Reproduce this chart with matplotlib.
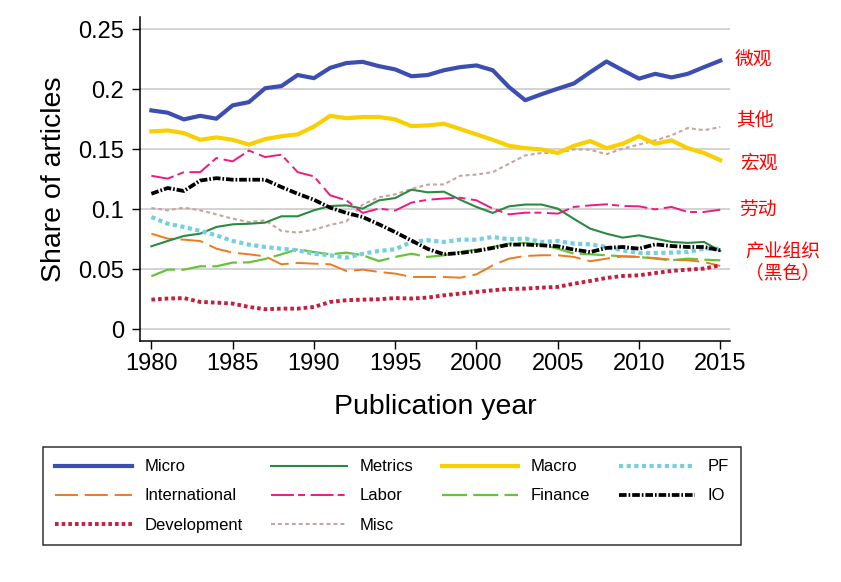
import matplotlib
matplotlib.use("Agg")
import matplotlib.pyplot as plt

years = list(range(1980, 2016))

micro = [0.1825, 0.1806, 0.175, 0.178, 0.1756, 0.1867, 0.1894, 0.201, 0.2028, 0.212,
         0.2094, 0.218, 0.222, 0.223, 0.2194, 0.2167, 0.211, 0.212, 0.216, 0.2186,
         0.220, 0.216, 0.202, 0.191, 0.196, 0.2006, 0.205, 0.2144, 0.2233, 0.216,
         0.209, 0.213, 0.210, 0.213, 0.2186, 0.224]
metrics = [0.0692, 0.0736, 0.0778, 0.0797, 0.0853, 0.0875, 0.088, 0.0889, 0.0942, 0.0942,
           0.0992, 0.1028, 0.1033, 0.1006, 0.1075, 0.1094, 0.1164, 0.1142, 0.1147, 0.108,
           0.102, 0.097, 0.1025, 0.104, 0.104, 0.1006, 0.092, 0.0839, 0.0797, 0.0764,
           0.0783, 0.0756, 0.0728, 0.072, 0.0728, 0.0653]
macro = [0.165, 0.1658, 0.1636, 0.158, 0.160, 0.158, 0.154, 0.1586, 0.161, 0.1625,
         0.169, 0.178, 0.176, 0.177, 0.177, 0.175, 0.1694, 0.170, 0.1714, 0.167,
         0.1625, 0.158, 0.153, 0.151, 0.150, 0.147, 0.153, 0.157, 0.151, 0.1547,
         0.161, 0.1547, 0.1575, 0.151, 0.147, 0.141]
pf = [0.0936, 0.088, 0.0853, 0.082, 0.0783, 0.0736, 0.0706, 0.0686, 0.0672, 0.0658,
      0.063, 0.0617, 0.0597, 0.063, 0.0653, 0.0667, 0.0728, 0.0742, 0.0728, 0.0747,
      0.0747, 0.077, 0.075, 0.0756, 0.0728, 0.0736, 0.0714, 0.0708, 0.0686, 0.0658,
      0.0636, 0.0636, 0.0639, 0.0644, 0.0672, 0.0672]
international = [0.0797, 0.0756, 0.0747, 0.0736, 0.0672, 0.0639, 0.0625, 0.0608, 0.0542, 0.0553,
                 0.0547, 0.0542, 0.0486, 0.0497, 0.0478, 0.0464, 0.0436, 0.0436, 0.0436, 0.043,
                 0.0458, 0.0533, 0.0589, 0.0611, 0.0617, 0.0617, 0.0603, 0.0567, 0.0589, 0.0608,
                 0.0603, 0.0594, 0.058, 0.0575, 0.0561, 0.0528]
labor = [0.128, 0.1256, 0.131, 0.131, 0.1428, 0.140, 0.149, 0.1436, 0.1456, 0.131,
         0.1275, 0.1117, 0.1075, 0.097, 0.1006, 0.099, 0.1056, 0.108, 0.109, 0.1097,
         0.1075, 0.1006, 0.0958, 0.0972, 0.0972, 0.0964, 0.102, 0.1033, 0.1042, 0.1028,
         0.1025, 0.100, 0.102, 0.0978, 0.0978, 0.0997]
finance = [0.0442, 0.0497, 0.0497, 0.0525, 0.0525, 0.0556, 0.0558, 0.0586, 0.0625, 0.0667,
           0.0644, 0.0625, 0.0639, 0.0617, 0.0569, 0.0603, 0.063, 0.0603, 0.0617, 0.0644,
           0.0664, 0.0686, 0.0714, 0.072, 0.0706, 0.0672, 0.063, 0.0625, 0.0617, 0.0608,
           0.0603, 0.0589, 0.0575, 0.0589, 0.058, 0.0575]
io = [0.113, 0.1178, 0.1153, 0.124, 0.126, 0.1247, 0.1247, 0.1247, 0.1186, 0.113,
      0.108, 0.1014, 0.097, 0.0936, 0.0875, 0.081, 0.074, 0.067, 0.0625, 0.0636,
      0.0653, 0.0678, 0.0706, 0.0706, 0.070, 0.0692, 0.0664, 0.0644, 0.0678, 0.0686,
      0.0672, 0.0708, 0.0694, 0.0686, 0.0686, 0.0658]
development = [0.0247, 0.0256, 0.026, 0.0228, 0.0222, 0.0214, 0.0186, 0.0167, 0.0172, 0.0172,
               0.0186, 0.0228, 0.0242, 0.0247, 0.025, 0.026, 0.0256, 0.0264, 0.0283, 0.0297,
               0.0311, 0.0325, 0.0336, 0.0339, 0.0347, 0.0353, 0.038, 0.0403, 0.0428, 0.0444,
               0.045, 0.0469, 0.0486, 0.0497, 0.0506, 0.0533]
misc = [0.1011, 0.0992, 0.1014, 0.0992, 0.0958, 0.0922, 0.0894, 0.0908, 0.082, 0.0806,
        0.083, 0.087, 0.090, 0.104, 0.110, 0.1125, 0.117, 0.1206, 0.1208, 0.128,
        0.129, 0.131, 0.138, 0.145, 0.147, 0.147, 0.150, 0.1497, 0.146, 0.1506,
        0.154, 0.1575, 0.1617, 0.1678, 0.166, 0.1686]

xticks = [1980, 1985, 1990, 1995, 2000, 2005, 2010, 2015]
yticks = [0, 0.05, 0.1, 0.15, 0.2, 0.25]
ytick_labels = ["0", "0.05", "0.1", "0.15", "0.2", "0.25"]

# chinese notes on the right, (text, x px, y px)
notes = [("微观", 735, 60), ("其他", 736, 120), ("宏观", 740, 163),
         ("劳动", 739, 209), ("产业组织\n（黑色）", 745, 262)]

plt.rcParams['font.family'] = ['Liberation Sans', 'DejaVu Sans']
plt.rcParams['lines.scale_dashes'] = False

W, H = 841, 582
fig = plt.figure(figsize=(W / 100, H / 100), dpi=100)
ax = fig.add_axes([140 / W, 1 - 341 / H, 590 / W, 324 / H])

# (label, data, color, lw, dashes)
series = [
    ("Micro", micro, "#3c4fb1", 3.0, None),
    ("International", international, "#ec7a22", 1.4, (16.5, 5)),
    ("Development", development, "#c61e3c", 2.8, (2.6, 2.2)),
    ("Metrics", metrics, "#2a8a3f", 1.5, None),
    ("Labor", labor, "#ee1a80", 1.4, (16.5, 3, 5, 4)),
    ("Misc", misc, "#c6a49f", 1.5, (2.8, 2.2)),
    ("Macro", macro, "#f8cf00", 3.0, None),
    ("Finance", finance, "#66c43a", 1.6, (18, 4.5)),
    ("PF", pf, "#76cfdf", 3.0, (3, 2.5)),
    ("IO", io, "black", 2.7, (5.5, 1.4, 1.2, 1.4)),
]

# draw order roughly like the original (thick lines on top)
draw_order = ["Misc", "Finance", "International", "Metrics", "Labor", "Development",
              "PF", "IO", "Macro", "Micro"]
handles = {}
for name in draw_order:
    label, data, color, lw, dashes = [s for s in series if s[0] == name][0]
    line, = ax.plot(years, data, color=color, lw=lw, label=label)
    if dashes is not None:
        line.set_dashes(dashes)
    handles[label] = line

ax.set_xlim(1979.3, 2015.6)
ax.set_ylim(-0.0098, 0.2604)
ax.set_xticks(xticks)
ax.set_yticks(yticks)
ax.set_yticklabels(ytick_labels)
ax.yaxis.grid(True, color="#c8c8c8", lw=1.1)
ax.set_axisbelow(True)
for side in ["top", "right"]:
    ax.spines[side].set_visible(False)
for side in ["left", "bottom"]:
    ax.spines[side].set_linewidth(1.1)
ax.tick_params(axis="both", direction="out", length=5.5, width=1.0, labelsize=17)
ax.tick_params(axis="y", pad=6)
ax.tick_params(axis="x", pad=3)
ax.set_ylabel("Share of articles", fontsize=20.5, labelpad=8)
ax.set_xlabel("Publication year", fontsize=20.5, labelpad=14)

for txt, px, py in notes:
    fig.text(px / W, 1 - py / H, txt, color="red", fontsize=13.5, va="center", ha="left",
             linespacing=1.0, family=["Noto Sans CJK SC", "DejaVu Sans"])

leg_labels = [s[0] for s in series]
leg = fig.legend([handles[l] for l in leg_labels], leg_labels, loc="center",
                 bbox_to_anchor=(43 / W, 1 - 545 / H, 698 / W, 98 / H), mode="expand",
                 ncol=4, fontsize=12, frameon=True, fancybox=False, edgecolor="black",
                 handlelength=4.6, handletextpad=0.75, labelspacing=0.85, borderpad=0.72,
                 borderaxespad=0)
leg.get_frame().set_linewidth(1.1)

fig.savefig("out.png", dpi=100)
